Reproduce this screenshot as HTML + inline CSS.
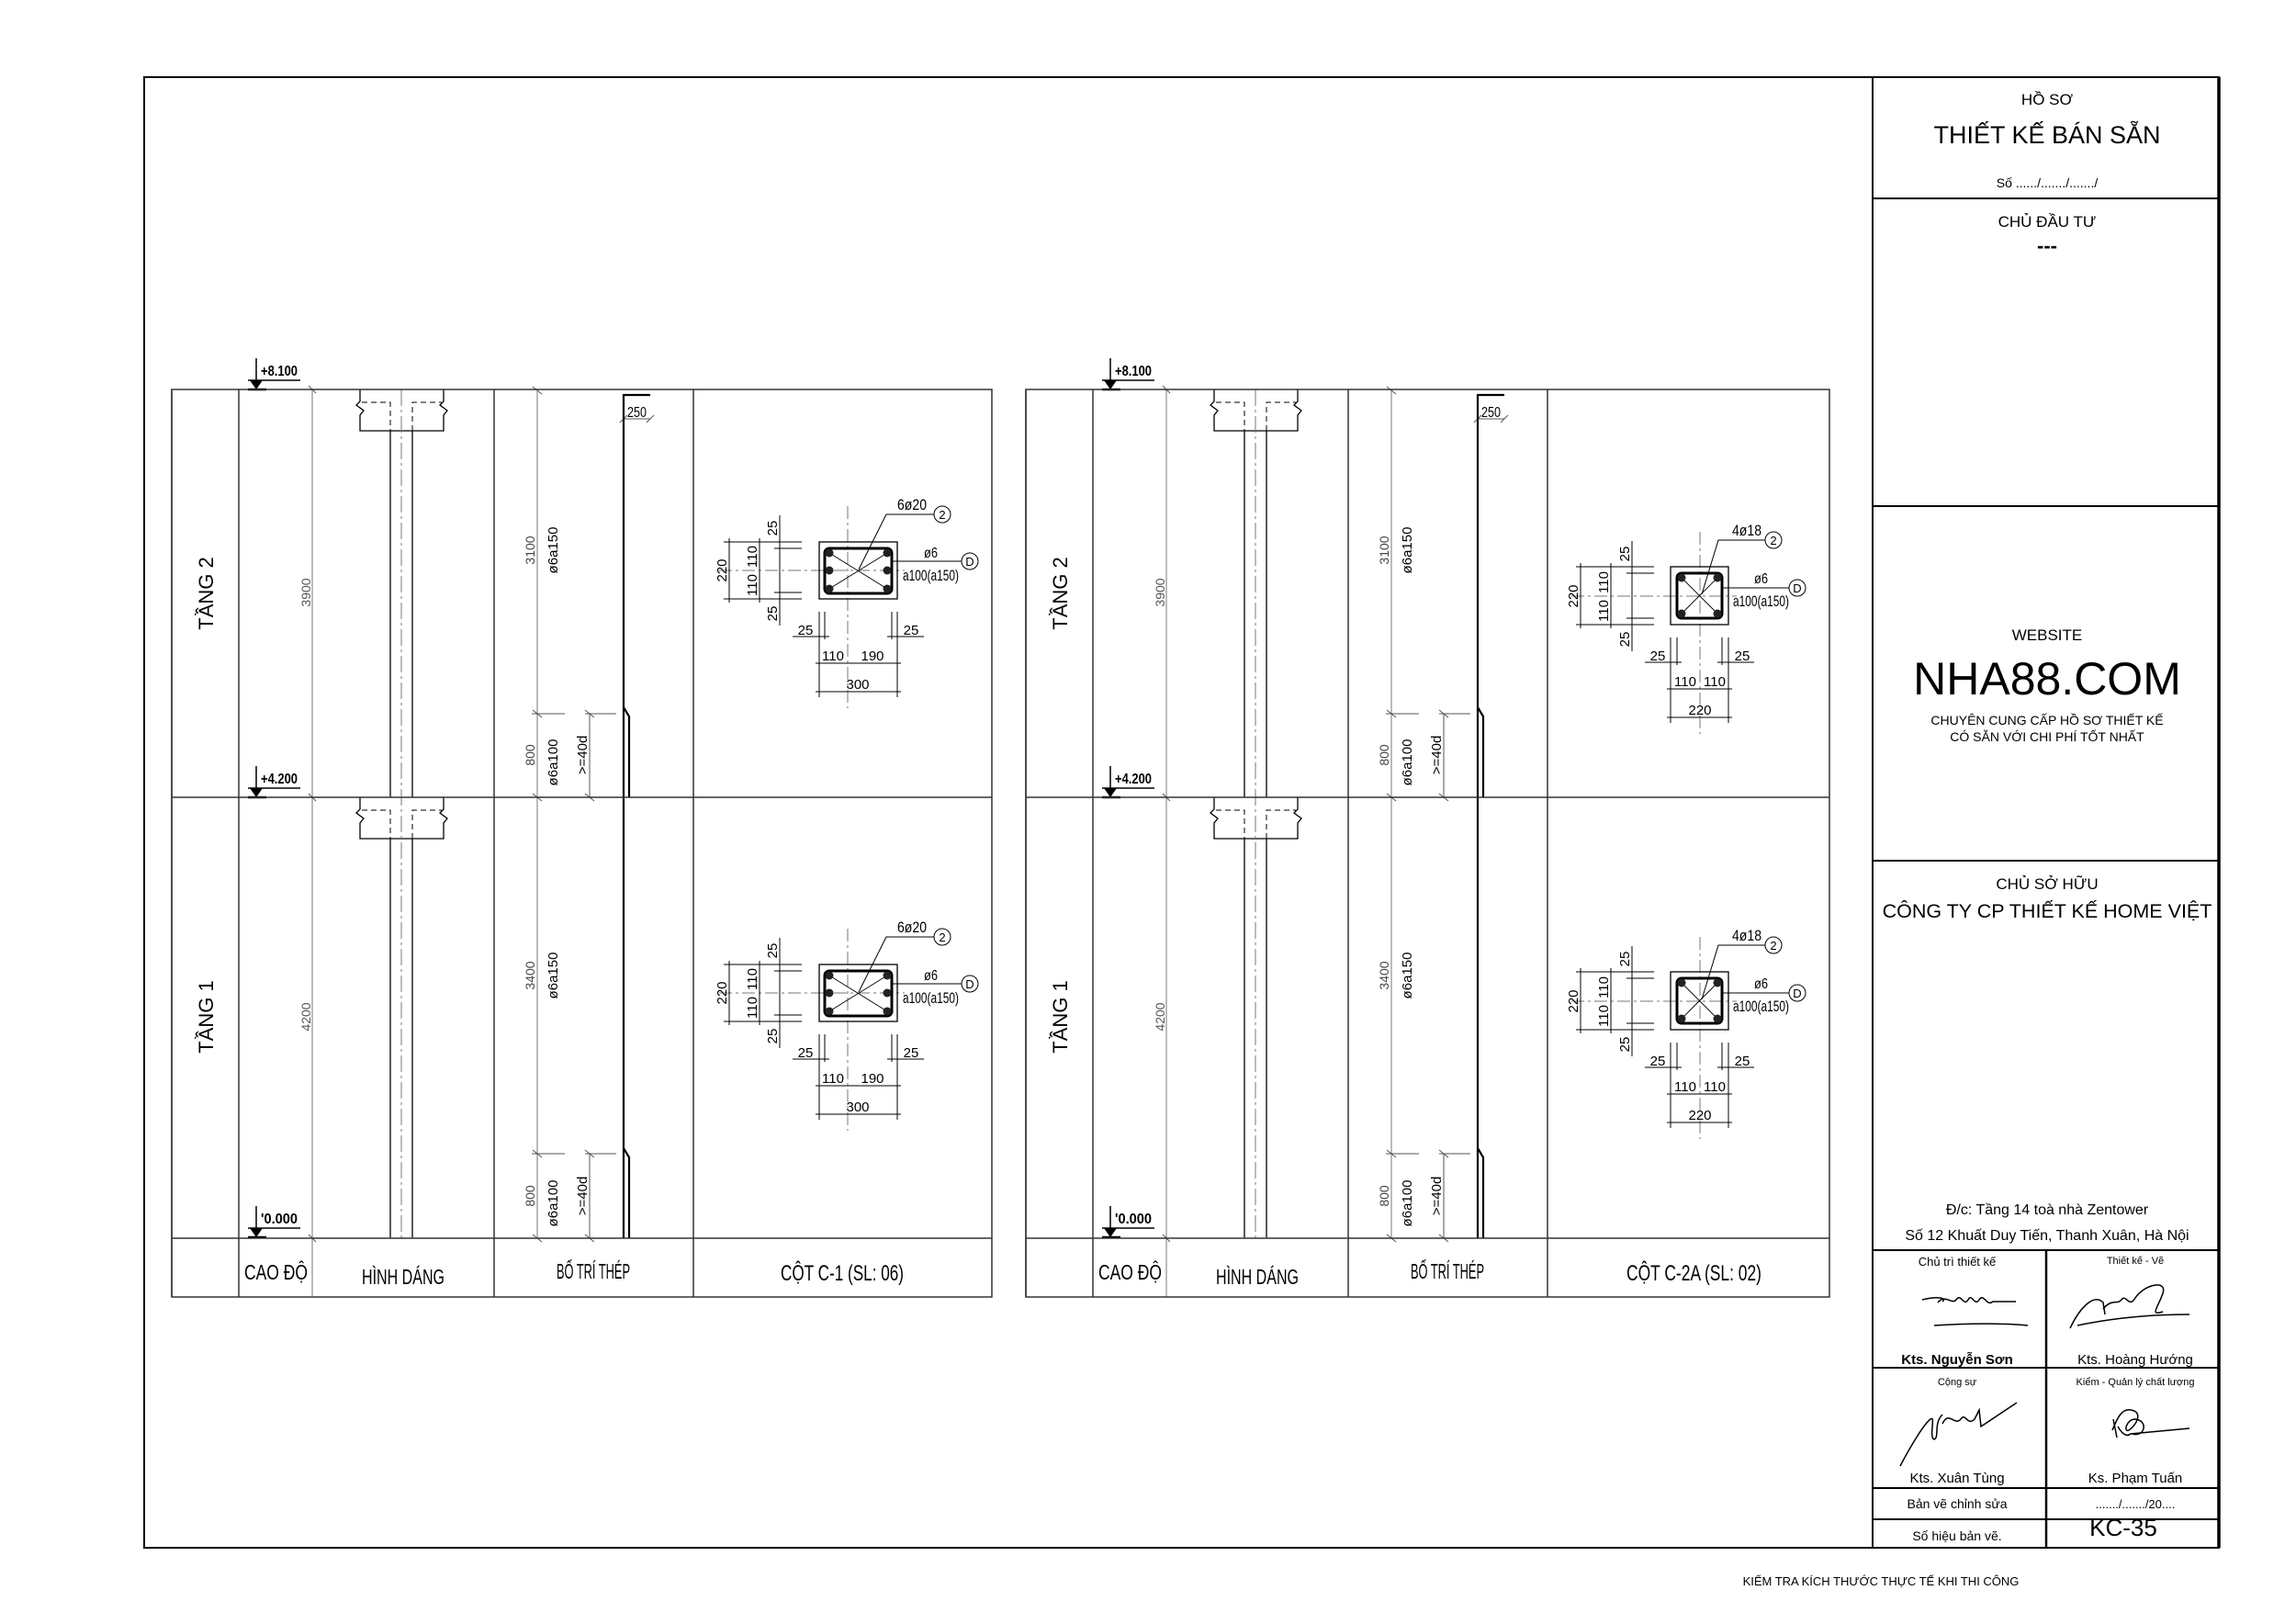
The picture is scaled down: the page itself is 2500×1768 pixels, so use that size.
<!DOCTYPE html>
<html><head><meta charset="utf-8"><style>
html,body{margin:0;padding:0;background:#fff;}
svg{display:block;}
text{font-family:"Liberation Sans",sans-serif;fill:#000;}
.n{font-family:"Liberation Sans Narrow","Liberation Sans",sans-serif;}
</style></head><body>
<svg width="2500" height="1768" viewBox="0 0 2500 1768" xmlns="http://www.w3.org/2000/svg">
<defs>
<g id="tbl">
  <g stroke="#333" stroke-width="1.5" fill="none">
    <line x1="187" y1="424" x2="187" y2="1412"/>
    <line x1="260" y1="424" x2="260" y2="1412"/>
    <line x1="538" y1="424" x2="538" y2="1412"/>
    <line x1="755" y1="424" x2="755" y2="1412"/>
  </g>
  <line x1="340" y1="424" x2="340" y2="1412" stroke="#777" stroke-width="1"/>
  <g stroke="#555" stroke-width="1">
    <line x1="336" y1="420" x2="344" y2="428"/><line x1="336" y1="864" x2="344" y2="872"/><line x1="336" y1="1344" x2="344" y2="1352"/>
  </g>
  <text transform="translate(232,646) rotate(-90)" font-size="22" text-anchor="middle">TẦNG 2</text>
  <text transform="translate(232,1107) rotate(-90)" font-size="22" text-anchor="middle">TẦNG 1</text>
  <text transform="translate(338,645) rotate(-90)" font-size="14" style="fill:#555" text-anchor="middle">3900</text>
  <text transform="translate(338,1107) rotate(-90)" font-size="14" style="fill:#555" text-anchor="middle">4200</text>
  <text x="266" y="1393" font-size="23" textLength="69" lengthAdjust="spacingAndGlyphs">CAO ĐỘ</text>
  <text x="394" y="1398" font-size="23" textLength="90" lengthAdjust="spacingAndGlyphs">HÌNH DÁNG</text>
  <text x="606" y="1392" font-size="23" textLength="80" lengthAdjust="spacingAndGlyphs">BỐ TRÍ THÉP</text>
  <g stroke="#000" stroke-width="1.5">
    <line x1="279" y1="390" x2="279" y2="424"/><line x1="270" y1="414" x2="327" y2="414"/>
    <line x1="279" y1="834" x2="279" y2="868"/><line x1="270" y1="858" x2="327" y2="858"/>
    <line x1="279" y1="1313" x2="279" y2="1347"/><line x1="270" y1="1337" x2="327" y2="1337"/>
  </g>
  <path d="M272 414 L286 414 L279 424 Z M272 858 L286 858 L279 868 Z M272 1337 L286 1337 L279 1347 Z"/>
  <line x1="270" y1="424" x2="290" y2="424" stroke="#000" stroke-width="2.5"/>
  <line x1="270" y1="868" x2="290" y2="868" stroke="#000" stroke-width="2.5"/>
  <line x1="270" y1="1347" x2="290" y2="1347" stroke="#000" stroke-width="2.5"/>
  <text x="284" y="409" font-size="16" textLength="40" lengthAdjust="spacingAndGlyphs" font-weight="bold">+8.100</text>
  <text x="284" y="853" font-size="16" textLength="40" lengthAdjust="spacingAndGlyphs" font-weight="bold">+4.200</text>
  <text x="284" y="1332" font-size="16" textLength="40" lengthAdjust="spacingAndGlyphs" font-weight="bold">'0.000</text>
  <g stroke="#000" stroke-width="1.3" fill="none">
    <line x1="425" y1="469" x2="425" y2="868"/><line x1="449" y1="469" x2="449" y2="868"/>
    <line x1="425" y1="913" x2="425" y2="1348"/><line x1="449" y1="913" x2="449" y2="1348"/>
    <path d="M392 424 V437 L388 441 L396 447 L392 452 V469 H483 V452 L487 447 L479 441 L483 437 V424"/>
    <path d="M392 868 V881 L388 885 L396 891 L392 896 V913 H483 V896 L487 891 L479 885 L483 881 V868"/>
  </g>
  <g stroke="#000" stroke-width="1" stroke-dasharray="6,4" fill="none">
    <path d="M394 438 H425 V469 M449 469 V438 H481"/>
    <path d="M394 882 H425 V913 M449 913 V882 H481"/>
  </g>
  <line x1="437" y1="424" x2="437" y2="1348" stroke="#777" stroke-width="1" stroke-dasharray="18,4,3,4"/>
  <line x1="585" y1="424" x2="585" y2="1348" stroke="#777" stroke-width="1"/>
  <g stroke="#555" stroke-width="1">
    <line x1="579" y1="777" x2="615" y2="777"/><line x1="579" y1="1256" x2="615" y2="1256"/>
    <line x1="642" y1="777" x2="642" y2="868"/><line x1="637" y1="777" x2="671" y2="777"/>
    <line x1="642" y1="1256" x2="642" y2="1348"/><line x1="637" y1="1256" x2="671" y2="1256"/>
    <line x1="580" y1="421" x2="590" y2="429"/><line x1="580" y1="773" x2="590" y2="781"/><line x1="580" y1="864" x2="590" y2="872"/>
    <line x1="580" y1="1252" x2="590" y2="1260"/><line x1="580" y1="1344" x2="590" y2="1352"/>
    <line x1="637" y1="773" x2="647" y2="781"/><line x1="637" y1="864" x2="647" y2="872"/>
    <line x1="637" y1="1252" x2="647" y2="1260"/><line x1="637" y1="1344" x2="647" y2="1352"/>
    <line x1="679" y1="456" x2="708" y2="456"/><line x1="675" y1="460" x2="683" y2="452"/><line x1="704" y1="460" x2="712" y2="452"/>
  </g>
  <g stroke="#000" stroke-width="2.2" fill="none">
    <path d="M708 430 H679 V1348"/>
    <path d="M679 770 L685 780 V868"/>
    <path d="M679 1250 L685 1260 V1348"/>
  </g>
  <text x="683" y="454" font-size="16" textLength="21" lengthAdjust="spacingAndGlyphs">250</text>
  <text transform="translate(582,599) rotate(-90)" font-size="14" style="fill:#444" text-anchor="middle">3100</text>
  <text transform="translate(607,599) rotate(-90)" font-size="15" text-anchor="middle">ø6a150</text>
  <text transform="translate(582,822) rotate(-90)" font-size="14" style="fill:#444" text-anchor="middle">800</text>
  <text transform="translate(607,830) rotate(-90)" font-size="15" text-anchor="middle">ø6a100</text>
  <text transform="translate(639,822) rotate(-90)" font-size="15" text-anchor="middle">&gt;=40d</text>
  <text transform="translate(582,1062) rotate(-90)" font-size="14" style="fill:#444" text-anchor="middle">3400</text>
  <text transform="translate(607,1062) rotate(-90)" font-size="15" text-anchor="middle">ø6a150</text>
  <text transform="translate(582,1302) rotate(-90)" font-size="14" style="fill:#444" text-anchor="middle">800</text>
  <text transform="translate(607,1310) rotate(-90)" font-size="15" text-anchor="middle">ø6a100</text>
  <text transform="translate(639,1302) rotate(-90)" font-size="15" text-anchor="middle">&gt;=40d</text>
</g>

<g id="secA">
  <g stroke="#777" stroke-width="1" stroke-dasharray="14,4,3,4">
    <line x1="0" y1="-70" x2="0" y2="150"/><line x1="-140" y1="0" x2="62" y2="0"/>
  </g>
  <rect x="-31" y="-31" width="85" height="62" fill="none" stroke="#000" stroke-width="1.3"/>
  <rect x="-25" y="-24" width="73" height="49" rx="5" fill="none" stroke="#000" stroke-width="3"/>
  <g stroke="#000" stroke-width="0.9"><line x1="-20" y1="-19" x2="43" y2="20"/><line x1="-20" y1="20" x2="43" y2="-19"/></g>
  <g fill="#222"><circle cx="-20" cy="-19" r="4.5"/><circle cx="43" cy="-19" r="4.5"/><circle cx="-20" cy="0" r="4.5"/><circle cx="43" cy="0" r="4.5"/><circle cx="-20" cy="20" r="4.5"/><circle cx="43" cy="20" r="4.5"/></g>
  <g stroke="#000" stroke-width="1" fill="none">
    <path d="M12 -1 L42 -61 H94"/><circle cx="103" cy="-61" r="9"/>
    <line x1="48" y1="-10" x2="124" y2="-10"/><circle cx="133" cy="-10" r="9"/>
    <line x1="-135" y1="-31" x2="-50" y2="-31"/><line x1="-135" y1="31" x2="-50" y2="31"/>
    <line x1="-80" y1="-24" x2="-50" y2="-24"/><line x1="-80" y1="24" x2="-50" y2="24"/>
    <line x1="-129" y1="-35" x2="-129" y2="35"/><line x1="-96" y1="-35" x2="-96" y2="35"/><line x1="-74" y1="-60" x2="-74" y2="60"/>
    <line x1="-31" y1="45" x2="-31" y2="138"/><line x1="54" y1="45" x2="54" y2="138"/>
    <line x1="-25" y1="45" x2="-25" y2="75"/><line x1="48" y1="45" x2="48" y2="75"/>
    <line x1="-60" y1="72" x2="-20" y2="72"/><line x1="43" y1="72" x2="83" y2="72"/>
    <line x1="-35" y1="101" x2="58" y2="101"/><line x1="-35" y1="132" x2="58" y2="132"/>
  </g>
  <text x="54" y="-66" font-size="17" textLength="32" lengthAdjust="spacingAndGlyphs">6ø20</text>
  <text x="103" y="-56" font-size="13" text-anchor="middle">2</text>
  <text x="133" y="-5" font-size="13" text-anchor="middle">D</text>
  <text x="83" y="-14" font-size="16" textLength="15" lengthAdjust="spacingAndGlyphs">ø6</text>
  <text x="60" y="11" font-size="17" textLength="61" lengthAdjust="spacingAndGlyphs">a100(a150)</text>
  <text transform="translate(-132,0) rotate(-90)" font-size="15" text-anchor="middle">220</text>
  <text transform="translate(-99,-15) rotate(-90)" font-size="15" text-anchor="middle">110</text>
  <text transform="translate(-99,16) rotate(-90)" font-size="15" text-anchor="middle">110</text>
  <text transform="translate(-77,-46) rotate(-90)" font-size="15" text-anchor="middle">25</text>
  <text transform="translate(-77,47) rotate(-90)" font-size="15" text-anchor="middle">25</text>
  <text x="-46" y="70" font-size="15" text-anchor="middle">25</text>
  <text x="69" y="70" font-size="15" text-anchor="middle">25</text>
  <text x="-16" y="98" font-size="15" text-anchor="middle">110</text>
  <text x="27" y="98" font-size="15" text-anchor="middle">190</text>
  <text x="11" y="129" font-size="15" text-anchor="middle">300</text>
</g>

<g id="secB">
  <g stroke="#777" stroke-width="1" stroke-dasharray="14,4,3,4">
    <line x1="0" y1="-70" x2="0" y2="150"/><line x1="-140" y1="0" x2="40" y2="0"/>
  </g>
  <rect x="-32" y="-32" width="63" height="63" fill="none" stroke="#000" stroke-width="1.3"/>
  <rect x="-25" y="-25" width="49" height="49" rx="5" fill="none" stroke="#000" stroke-width="3"/>
  <g stroke="#000" stroke-width="0.9"><line x1="-20" y1="-20" x2="19" y2="19"/><line x1="-20" y1="19" x2="19" y2="-20"/></g>
  <g fill="#222"><circle cx="-20" cy="-20" r="4.5"/><circle cx="19" cy="-20" r="4.5"/><circle cx="-20" cy="19" r="4.5"/><circle cx="19" cy="19" r="4.5"/></g>
  <g stroke="#000" stroke-width="1" fill="none">
    <path d="M2 -2 L20 -61 H71"/><circle cx="80" cy="-61" r="9"/>
    <line x1="24" y1="-9" x2="97" y2="-9"/><circle cx="106" cy="-9" r="9"/>
    <line x1="-135" y1="-32" x2="-50" y2="-32"/><line x1="-135" y1="31" x2="-50" y2="31"/>
    <line x1="-80" y1="-25" x2="-50" y2="-25"/><line x1="-80" y1="24" x2="-50" y2="24"/>
    <line x1="-130" y1="-36" x2="-130" y2="35"/><line x1="-97" y1="-36" x2="-97" y2="35"/><line x1="-74" y1="-60" x2="-74" y2="60"/>
    <line x1="-32" y1="45" x2="-32" y2="138"/><line x1="31" y1="45" x2="31" y2="138"/>
    <line x1="-25" y1="45" x2="-25" y2="75"/><line x1="24" y1="45" x2="24" y2="75"/>
    <line x1="-60" y1="72" x2="-20" y2="72"/><line x1="19" y1="72" x2="59" y2="72"/>
    <line x1="-36" y1="101" x2="35" y2="101"/><line x1="-36" y1="132" x2="35" y2="132"/>
  </g>
  <text x="35" y="-66" font-size="17" textLength="32" lengthAdjust="spacingAndGlyphs">4ø18</text>
  <text x="80" y="-56" font-size="13" text-anchor="middle">2</text>
  <text x="106" y="-4" font-size="13" text-anchor="middle">D</text>
  <text x="59" y="-14" font-size="16" textLength="15" lengthAdjust="spacingAndGlyphs">ø6</text>
  <text x="36" y="11" font-size="17" textLength="61" lengthAdjust="spacingAndGlyphs">a100(a150)</text>
  <text transform="translate(-133,0) rotate(-90)" font-size="15" text-anchor="middle">220</text>
  <text transform="translate(-100,-15) rotate(-90)" font-size="15" text-anchor="middle">110</text>
  <text transform="translate(-100,16) rotate(-90)" font-size="15" text-anchor="middle">110</text>
  <text transform="translate(-77,-46) rotate(-90)" font-size="15" text-anchor="middle">25</text>
  <text transform="translate(-77,47) rotate(-90)" font-size="15" text-anchor="middle">25</text>
  <text x="-46" y="70" font-size="15" text-anchor="middle">25</text>
  <text x="46" y="70" font-size="15" text-anchor="middle">25</text>
  <text x="-16" y="98" font-size="15" text-anchor="middle">110</text>
  <text x="16" y="98" font-size="15" text-anchor="middle">110</text>
  <text x="0" y="129" font-size="15" text-anchor="middle">220</text>
</g>
</defs>

<rect width="2500" height="1768" fill="#fff"/>
<rect x="157" y="84" width="2259" height="1601" fill="none" stroke="#000" stroke-width="2"/>
<line x1="2416" y1="84" x2="2416" y2="1685" stroke="#000" stroke-width="3.5"/>

<use href="#tbl"/>
<use href="#tbl" transform="translate(930,0)"/>
<g stroke="#333" stroke-width="1.5" fill="none">
  <rect x="187" y="424" width="893" height="988"/>
  <line x1="187" y1="868" x2="1080" y2="868"/>
  <line x1="187" y1="1348" x2="1080" y2="1348"/>
  <rect x="1117" y="424" width="875" height="988"/>
  <line x1="1117" y1="868" x2="1992" y2="868"/>
  <line x1="1117" y1="1348" x2="1992" y2="1348"/>
</g>
<text x="850" y="1394" font-size="24" textLength="134" lengthAdjust="spacingAndGlyphs">CỘT C-1 (SL: 06)</text>
<text x="1771" y="1394" font-size="24" textLength="147" lengthAdjust="spacingAndGlyphs">CỘT C-2A (SL: 02)</text>
<use href="#secA" transform="translate(923,621)"/>
<use href="#secA" transform="translate(923,1081)"/>
<use href="#secB" transform="translate(1851,649)"/>
<use href="#secB" transform="translate(1851,1090)"/>

<g stroke="#000" stroke-width="2" fill="none">
  <line x1="2039" y1="84" x2="2039" y2="1685"/>
  <line x1="2039" y1="216" x2="2416" y2="216"/>
  <line x1="2039" y1="551" x2="2416" y2="551"/>
  <line x1="2039" y1="937" x2="2416" y2="937"/>
  <line x1="2039" y1="1361" x2="2416" y2="1361"/>
  <line x1="2039" y1="1489" x2="2416" y2="1489"/>
  <line x1="2039" y1="1620" x2="2416" y2="1620"/>
  <line x1="2039" y1="1654" x2="2416" y2="1654"/>
  <line x1="2228" y1="1361" x2="2228" y2="1685" stroke-width="2.5"/>
</g>
<g text-anchor="middle">
<text x="2229" y="114" font-size="17">HỒ SƠ</text>
<text x="2229" y="156" font-size="27">THIẾT KẾ BÁN SẴN</text>
<text x="2229" y="204" font-size="14">Số ....../......./......./</text>
<text x="2229" y="247" font-size="17">CHỦ ĐẦU TƯ</text>
<text x="2229" y="275" font-size="22" font-weight="bold">---</text>
<text x="2229" y="697" font-size="17">WEBSITE</text>
<text x="2229" y="756" font-size="50">NHA88.COM</text>
<text x="2229" y="789" font-size="14">CHUYÊN CUNG CẤP HỒ SƠ THIẾT KẾ</text>
<text x="2229" y="807" font-size="14">CÓ SẴN VỚI CHI PHÍ TỐT NHẤT</text>
<text x="2229" y="968" font-size="17">CHỦ SỞ HỮU</text>
<text x="2229" y="999" font-size="21.5">CÔNG TY CP THIẾT KẾ HOME VIỆT</text>
<text x="2229" y="1322" font-size="16">Đ/c: Tầng 14 toà nhà Zentower</text>
<text x="2229" y="1350" font-size="16">Số 12 Khuất Duy Tiến, Thanh Xuân, Hà Nội</text>
<text x="2131" y="1378" font-size="13">Chủ trì thiết kế</text>
<text x="2325" y="1376" font-size="11">Thiết kế - Vẽ</text>
<text x="2131" y="1485" font-size="15" font-weight="bold">Kts. Nguyễn Sơn</text>
<text x="2325" y="1485" font-size="15">Kts. Hoàng Hướng</text>
<text x="2131" y="1508" font-size="11">Cộng sự</text>
<text x="2325" y="1508" font-size="11">Kiểm - Quản lý chất lượng</text>
<text x="2131" y="1614" font-size="15">Kts. Xuân Tùng</text>
<text x="2325" y="1614" font-size="15">Ks. Phạm Tuấn</text>
<text x="2131" y="1642" font-size="14">Bản vẽ chỉnh sửa</text>
<text x="2325" y="1642" font-size="13">......./......./20....</text>
<text x="2131" y="1677" font-size="14">Số hiệu bản vẽ.</text>
<text x="2312" y="1672" font-size="26">KC-35</text>
</g>
<g stroke="#000" stroke-width="1.5" fill="none">
  <path d="M2093 1415 C2110 1411 2120 1413 2115 1417 M2110 1418 C2118 1408 2125 1421 2130 1415 C2135 1407 2138 1423 2143 1415 C2147 1407 2150 1423 2155 1415 C2160 1407 2163 1423 2170 1417 H2195"/>
  <path d="M2106 1443 C2150 1440 2190 1441 2208 1443"/>
  <path d="M2254 1446 C2265 1423 2280 1408 2290 1418 L2292 1431 M2262 1443 C2300 1435 2340 1431 2384 1431 M2290 1425 C2300 1413 2305 1421 2310 1415 C2315 1408 2318 1425 2325 1413 C2335 1398 2360 1393 2355 1408 C2350 1423 2340 1433 2355 1428"/>
  <path d="M2069 1596 C2080 1575 2095 1550 2102 1545 C2108 1540 2100 1565 2106 1567 C2112 1565 2105 1550 2115 1540 M2115 1550 C2122 1535 2128 1553 2135 1545 C2140 1537 2142 1553 2150 1545 L2155 1535 L2157 1553 L2196 1527"/>
  <path d="M2300 1557 C2305 1545 2310 1533 2320 1535 C2335 1537 2325 1553 2318 1557 C2312 1560 2315 1545 2325 1545 C2340 1547 2335 1565 2322 1561 M2301 1545 L2305 1565 M2306 1553 C2310 1560 2315 1565 2320 1561 L2384 1555"/>
</g>
<text x="2048" y="1726" font-size="13" text-anchor="middle">KIỂM TRA KÍCH THƯỚC THỰC TẾ KHI THI CÔNG</text>
</svg>
</body></html>
